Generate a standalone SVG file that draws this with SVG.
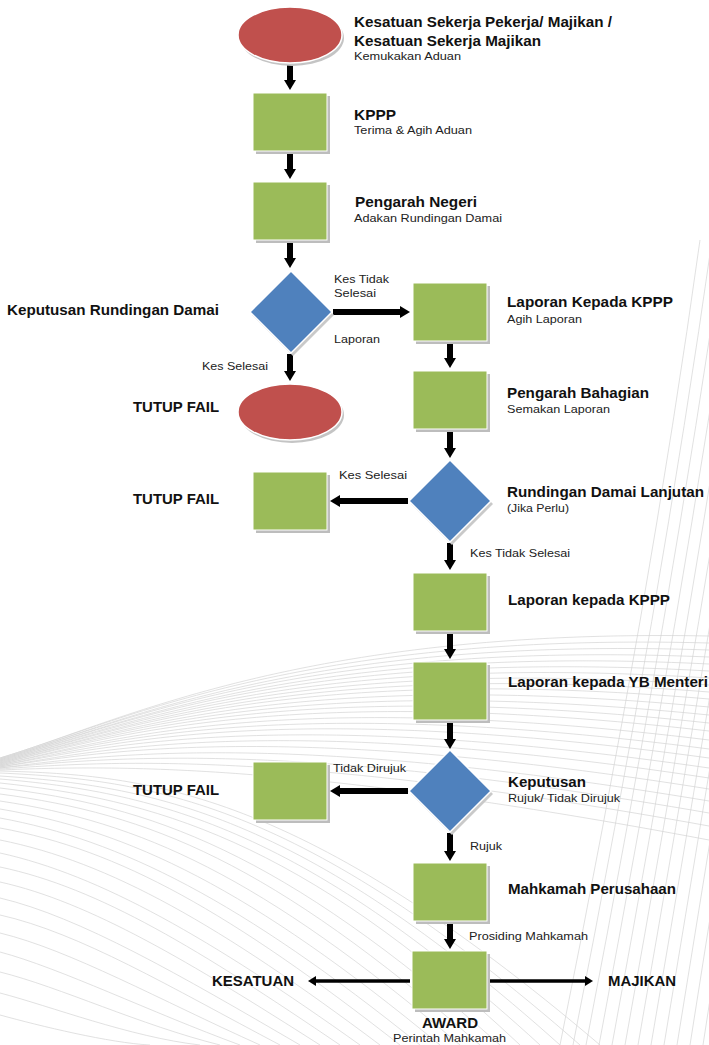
<svg xmlns="http://www.w3.org/2000/svg" width="709" height="1045" viewBox="0 0 709 1045">
<style>
.bg{fill:none;stroke:#d4d4d4;stroke-width:0.7}
.box{fill:#9BBB59;stroke:#ffffff;stroke-width:1}
.boxsh{fill:#bdbdbd}
.dia{fill:#4F81BD;stroke:#ffffff;stroke-width:1.5}
.diash{fill:#c9c9c9}
.ell{fill:#C0504D;stroke:#ffffff;stroke-width:1.5}
.ellsh{fill:#c4c4c4}
.arr{stroke:#000;stroke-width:6;fill:none;marker-end:url(#ah)}
.arrt{stroke:#000;stroke-width:3.5;fill:none;marker-end:url(#ahs)}
.b{font-family:"Liberation Sans",Arial,sans-serif;font-weight:bold;font-size:15px;fill:#111}
.s{font-family:"Liberation Sans",Arial,sans-serif;font-size:11px;fill:#222}
</style>
<defs>
<marker id="ah" viewBox="0 0 10 12" markerWidth="10" markerHeight="12" refX="0" refY="6" orient="auto" markerUnits="userSpaceOnUse"><path d="M0,0 L10,6 L0,12 z" fill="#000"/></marker>
<marker id="ahs" viewBox="0 0 8 10" markerWidth="8" markerHeight="10" refX="0" refY="5" orient="auto" markerUnits="userSpaceOnUse"><path d="M0,0 L8,5 L0,10 z" fill="#000"/></marker>
</defs>
<rect width="709" height="1045" fill="#ffffff"/>
<g id="background">
<path class="bg" d="M700,240 Q650,600 560,1045"/>
<path class="bg" d="M712,240 Q661,600 573,1045"/>
<path class="bg" d="M724,240 Q672,600 586,1045"/>
<path class="bg" d="M736,240 Q683,600 599,1045"/>
<path class="bg" d="M748,240 Q694,600 612,1045"/>
<path class="bg" d="M760,240 Q705,600 625,1045"/>
<path class="bg" d="M772,240 Q716,600 638,1045"/>
<path class="bg" d="M784,240 Q727,600 651,1045"/>
<path class="bg" d="M796,240 Q738,600 664,1045"/>
<path class="bg" d="M808,240 Q749,600 677,1045"/>
<path class="bg" d="M820,240 Q760,600 690,1045"/>
<path class="bg" d="M832,240 Q771,600 703,1045"/>
<path class="bg" d="M844,240 Q782,600 716,1045"/>
<path class="bg" d="M0,758 C120,722 300,628 709,636"/>
<path class="bg" d="M0,758 C120,722 300,632 709,643"/>
<path class="bg" d="M0,759 C120,723 300,636 709,650"/>
<path class="bg" d="M0,759 C120,723 300,640 709,657"/>
<path class="bg" d="M0,760 C120,724 300,644 709,664"/>
<path class="bg" d="M0,760 C120,724 300,648 709,671"/>
<path class="bg" d="M0,761 C120,725 300,652 709,678"/>
<path class="bg" d="M0,761 C120,726 300,656 709,685"/>
<path class="bg" d="M0,762 C120,727 300,660 709,692"/>
<path class="bg" d="M0,762 C120,728 300,664 709,699"/>
<path class="bg" d="M0,763 C120,729 300,669 709,707"/>
<path class="bg" d="M0,763 C120,730 300,674 709,715"/>
<path class="bg" d="M0,764 C120,731 300,679 709,723"/>
<path class="bg" d="M0,764 C120,733 300,684 709,731"/>
<path class="bg" d="M0,765 C120,735 300,690 709,740"/>
<path class="bg" d="M0,765 C120,737 300,696 709,749"/>
<path class="bg" d="M0,766 C120,739 300,702 709,758"/>
<path class="bg" d="M0,766 C120,742 300,709 709,768"/>
<path class="bg" d="M0,767 C120,745 300,716 709,778"/>
<path class="bg" d="M0,767 C120,748 300,724 709,789"/>
<path class="bg" d="M0,768 C120,752 300,733 709,801"/>
<path class="bg" d="M0,768 C120,756 300,742 709,813"/>
<path class="bg" d="M0,769 C120,760 300,752 709,826"/>
<path class="bg" d="M0,770 C120,765 300,763 709,840"/>
<path class="bg" d="M0,771 C150,775 300,790 600,1045"/>
<path class="bg" d="M0,773 C150,780 300,800 580,1045"/>
<path class="bg" d="M0,776 C150,786 300,812 560,1045"/>
<path class="bg" d="M0,779 C150,792 300,825 540,1045"/>
<path class="bg" d="M0,783 C150,799 300,838 520,1045"/>
<path class="bg" d="M0,788 C150,806 280,850 500,1045"/>
<path class="bg" d="M0,794 C150,814 270,862 480,1045"/>
<path class="bg" d="M0,801 C140,822 260,875 460,1045"/>
<path class="bg" d="M0,809 C130,831 250,888 440,1045"/>
<path class="bg" d="M0,818 C120,840 240,900 420,1045"/>
<path class="bg" d="M0,828 C120,850 230,912 400,1045"/>
<path class="bg" d="M0,840 C110,862 220,925 380,1045"/>
<path class="bg" d="M0,853 C100,875 210,938 360,1045"/>
<path class="bg" d="M0,867 C100,888 200,950 340,1045"/>
<path class="bg" d="M0,882 C90,902 190,962 320,1045"/>
<path class="bg" d="M0,898 C80,917 180,975 300,1045"/>
<path class="bg" d="M0,915 C80,933 170,987 280,1045"/>
<path class="bg" d="M0,933 C70,950 160,1000 260,1045"/>
<path class="bg" d="M0,952 C60,968 150,1012 240,1045"/>
<path class="bg" d="M0,972 C60,987 140,1025 220,1045"/>
<path class="bg" d="M0,993 C50,1006 130,1037 200,1045"/>
<path class="bg" d="M0,1015 C40,1026 110,1043 150,1045"/>
</g>
<g id="connectors">
<line class="arr" x1="290" y1="64" x2="290" y2="80"/>
<line class="arr" x1="290" y1="152" x2="290" y2="169"/>
<line class="arr" x1="290" y1="241" x2="290" y2="258"/>
<line class="arr" x1="290" y1="354" x2="290" y2="371"/>
<line class="arr" x1="333" y1="312" x2="400" y2="312"/>
<line class="arr" x1="450" y1="342" x2="450" y2="358"/>
<line class="arr" x1="450" y1="430" x2="450" y2="448"/>
<line class="arr" x1="408" y1="501" x2="340" y2="501"/>
<line class="arr" x1="450" y1="543" x2="450" y2="560"/>
<line class="arr" x1="450" y1="632" x2="450" y2="649"/>
<line class="arr" x1="450" y1="721" x2="450" y2="739"/>
<line class="arr" x1="408" y1="791" x2="340" y2="791"/>
<line class="arr" x1="450" y1="833" x2="450" y2="851"/>
<line class="arr" x1="450" y1="923" x2="450" y2="939"/>
<line class="arrt" x1="410" y1="981" x2="316" y2="981"/>
<line class="arrt" x1="490" y1="981" x2="585" y2="981"/>
<text class="s" x="334" y="283" textLength="55" lengthAdjust="spacingAndGlyphs">Kes Tidak</text>
<text class="s" x="334" y="297" textLength="42" lengthAdjust="spacingAndGlyphs">Selesai</text>
<text class="s" x="334" y="343" textLength="46" lengthAdjust="spacingAndGlyphs">Laporan</text>
<text class="s" x="202" y="370" textLength="66" lengthAdjust="spacingAndGlyphs">Kes Selesai</text>
<text class="s" x="339" y="479" textLength="68" lengthAdjust="spacingAndGlyphs">Kes Selesai</text>
<text class="s" x="470" y="557" textLength="100" lengthAdjust="spacingAndGlyphs">Kes Tidak Selesai</text>
<text class="s" x="333" y="772" textLength="73" lengthAdjust="spacingAndGlyphs">Tidak Dirujuk</text>
<text class="s" x="470" y="850" textLength="32" lengthAdjust="spacingAndGlyphs">Rujuk</text>
<text class="s" x="469" y="940" textLength="119" lengthAdjust="spacingAndGlyphs">Prosiding Mahkamah</text>
</g>
<g id="n-start">
<ellipse class="ellsh" cx="292" cy="38" rx="52" ry="28"/>
<ellipse class="ell" cx="290" cy="35" rx="52" ry="28"/>
<text class="b" x="354" y="27" textLength="258" lengthAdjust="spacingAndGlyphs">Kesatuan Sekerja Pekerja/ Majikan /</text>
<text class="b" x="354" y="46" textLength="187" lengthAdjust="spacingAndGlyphs">Kesatuan Sekerja Majikan</text>
<text class="s" x="354" y="60" textLength="107" lengthAdjust="spacingAndGlyphs">Kemukakan Aduan</text>
</g>
<g id="n-kppp">
<rect class="boxsh" x="256" y="96" width="74" height="58"/>
<rect class="box" x="253" y="93" width="74" height="58"/>
<text class="b" x="354" y="120" textLength="42" lengthAdjust="spacingAndGlyphs">KPPP</text>
<text class="s" x="354" y="134" textLength="118" lengthAdjust="spacingAndGlyphs">Terima &amp; Agih Aduan</text>
</g>
<g id="n-pengarah-negeri">
<rect class="boxsh" x="256" y="185" width="74" height="58"/>
<rect class="box" x="253" y="182" width="74" height="58"/>
<text class="b" x="355" y="207" textLength="122" lengthAdjust="spacingAndGlyphs">Pengarah Negeri</text>
<text class="s" x="354" y="222" textLength="148" lengthAdjust="spacingAndGlyphs">Adakan Rundingan Damai</text>
</g>
<g id="n-keputusan-rundingan">
<polygon class="diash" points="293,274 334,315 293,356 252,315"/>
<polygon class="dia" points="291,271 332,312 291,353 250,312"/>
<text class="b" x="7" y="315" textLength="212" lengthAdjust="spacingAndGlyphs">Keputusan Rundingan Damai</text>
</g>
<g id="n-tutup1">
<ellipse class="ellsh" cx="292" cy="415" rx="52" ry="28"/>
<ellipse class="ell" cx="290" cy="412" rx="52" ry="28"/>
<text class="b" x="133" y="412" textLength="86" lengthAdjust="spacingAndGlyphs">TUTUP FAIL</text>
</g>
<g id="n-laporan-kppp1">
<rect class="boxsh" x="416" y="286" width="74" height="58"/>
<rect class="box" x="413" y="283" width="74" height="58"/>
<text class="b" x="507" y="307" textLength="166" lengthAdjust="spacingAndGlyphs">Laporan Kepada KPPP</text>
<text class="s" x="507" y="323" textLength="75" lengthAdjust="spacingAndGlyphs">Agih Laporan</text>
</g>
<g id="n-pengarah-bahagian">
<rect class="boxsh" x="416" y="374" width="74" height="58"/>
<rect class="box" x="413" y="371" width="74" height="58"/>
<text class="b" x="507" y="398" textLength="142" lengthAdjust="spacingAndGlyphs">Pengarah Bahagian</text>
<text class="s" x="507" y="413" textLength="103" lengthAdjust="spacingAndGlyphs">Semakan Laporan</text>
</g>
<g id="n-rundingan-lanjutan">
<polygon class="diash" points="452,463 493,504 452,545 411,504"/>
<polygon class="dia" points="450,460 491,501 450,542 409,501"/>
<text class="b" x="507" y="497" textLength="197" lengthAdjust="spacingAndGlyphs">Rundingan Damai Lanjutan</text>
<text class="s" x="507" y="512" textLength="62" lengthAdjust="spacingAndGlyphs" style="font-size:10px">(Jika Perlu)</text>
</g>
<g id="n-tutup2">
<rect class="boxsh" x="256" y="475" width="74" height="58"/>
<rect class="box" x="253" y="472" width="74" height="58"/>
<text class="b" x="133" y="504" textLength="86" lengthAdjust="spacingAndGlyphs">TUTUP FAIL</text>
</g>
<g id="n-laporan-kppp2">
<rect class="boxsh" x="416" y="576" width="74" height="58"/>
<rect class="box" x="413" y="573" width="74" height="58"/>
<text class="b" x="508" y="605" textLength="162" lengthAdjust="spacingAndGlyphs">Laporan kepada KPPP</text>
</g>
<g id="n-laporan-menteri">
<rect class="boxsh" x="416" y="665" width="74" height="58"/>
<rect class="box" x="413" y="662" width="74" height="58"/>
<text class="b" x="508" y="687" textLength="200" lengthAdjust="spacingAndGlyphs">Laporan kepada YB Menteri</text>
</g>
<g id="n-keputusan">
<polygon class="diash" points="452,753 493,794 452,835 411,794"/>
<polygon class="dia" points="450,750 491,791 450,832 409,791"/>
<text class="b" x="508" y="787" textLength="78" lengthAdjust="spacingAndGlyphs">Keputusan</text>
<text class="s" x="508" y="802" textLength="112" lengthAdjust="spacingAndGlyphs">Rujuk/ Tidak Dirujuk</text>
</g>
<g id="n-tutup3">
<rect class="boxsh" x="256" y="765" width="74" height="58"/>
<rect class="box" x="253" y="762" width="74" height="58"/>
<text class="b" x="133" y="795" textLength="86" lengthAdjust="spacingAndGlyphs">TUTUP FAIL</text>
</g>
<g id="n-mahkamah">
<rect class="boxsh" x="416" y="866" width="74" height="58"/>
<rect class="box" x="413" y="863" width="74" height="58"/>
<text class="b" x="508" y="894" textLength="168" lengthAdjust="spacingAndGlyphs">Mahkamah Perusahaan</text>
</g>
<g id="n-award">
<rect class="boxsh" x="415" y="954" width="75" height="58"/>
<rect class="box" x="412" y="951" width="75" height="58"/>
<text class="b" x="422" y="1028" textLength="56" lengthAdjust="spacingAndGlyphs">AWARD</text>
<text class="s" x="393" y="1042" textLength="113" lengthAdjust="spacingAndGlyphs">Perintah Mahkamah</text>
</g>
<g id="n-kesatuan">
<text class="b" x="212" y="986" textLength="82" lengthAdjust="spacingAndGlyphs">KESATUAN</text>
</g>
<g id="n-majikan">
<text class="b" x="608" y="986" textLength="68" lengthAdjust="spacingAndGlyphs">MAJIKAN</text>
</g>
</svg>
